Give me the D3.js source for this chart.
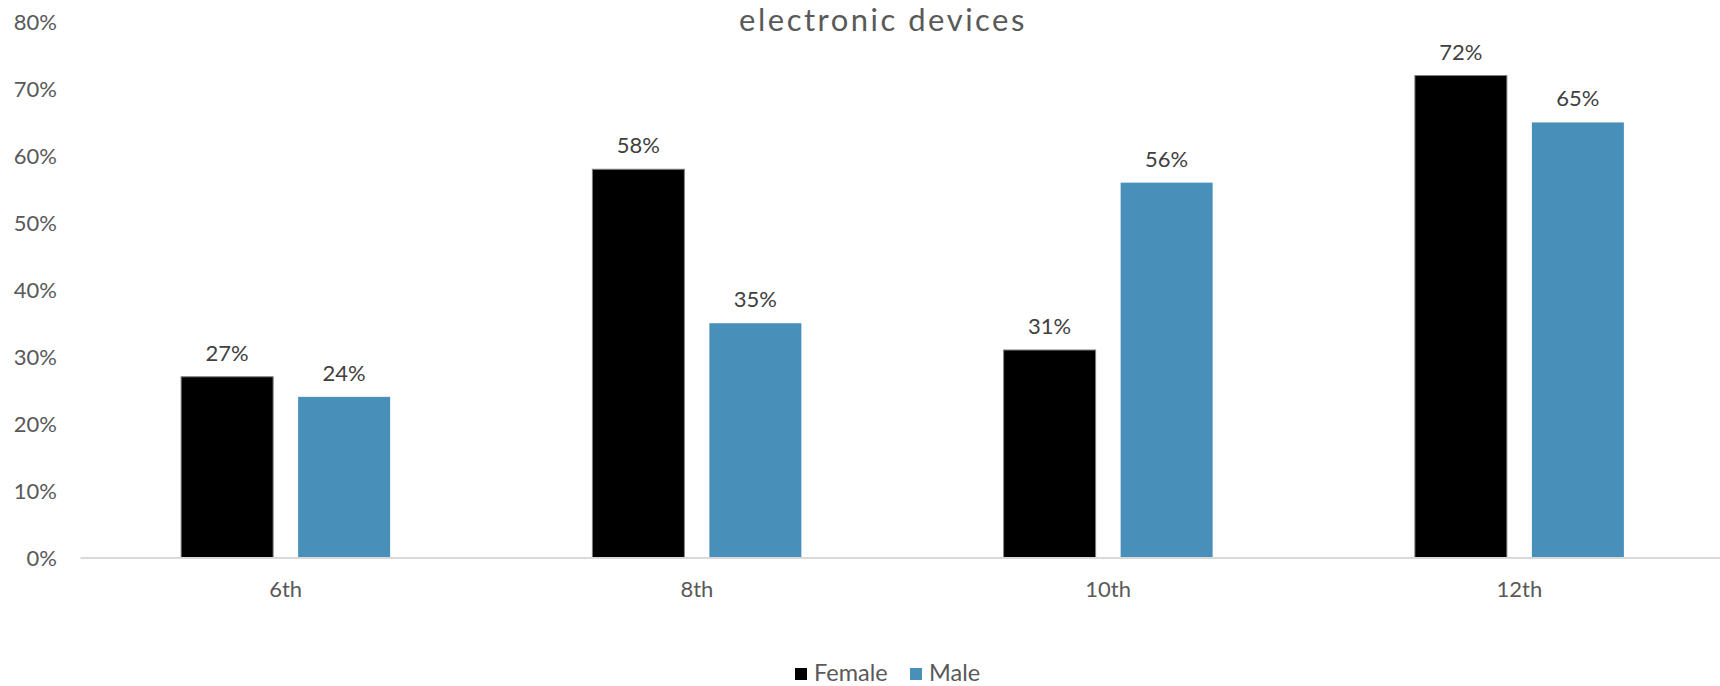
<!DOCTYPE html>
<html>
<head>
<meta charset="utf-8">
<script src="https://cdn.jsdelivr.net/npm/d3@7"></script>
<style>
  html, body { margin: 0; padding: 0; background: #fff; }
  svg { display: block; }
  text { font-family: Lato, "Open Sans", sans-serif; fill: #595959; }
</style>
</head>
<body>
<svg id="chart" width="1720" height="686"></svg>
<script>
const title = "electronic devices";
const categories = ["6th", "8th", "10th", "12th"];
const seriesNames = ["Female", "Male"];
const femaleValues = [27, 58, 31, 72];
const maleValues = [24, 35, 56, 65];
const yTicks = [0, 10, 20, 30, 40, 50, 60, 70, 80];
const colors = ["#000000", "#4890b9"];

const data = categories.map((c, i) => ({ cat: c, values: [femaleValues[i], maleValues[i]] }));

const svg = d3.select("#chart");
const plotLeft = 80, plotRight = 1725, plotTop = 22, plotBottom = 557.5;

const x = d3.scaleBand().domain(categories).range([plotLeft, plotRight]).paddingInner(0).paddingOuter(0);
const y = d3.scaleLinear().domain([0, 80]).range([plotBottom, plotTop]);

const barW = 92, gap = 25;

// Title
svg.append("text").attr("x", 883).attr("y", 31).attr("text-anchor", "middle")
  .style("font-size", "31px").style("letter-spacing", "2.5px").text(title);

// Y axis
const yAxis = d3.axisLeft(y).tickValues(yTicks).tickFormat(d => d + "%").tickSize(0).tickPadding(0);
const yg = svg.append("g").attr("transform", `translate(57,0)`).call(yAxis);
yg.select(".domain").remove();
yg.selectAll("text").style("font-size", "22px").style("fill", "#595959").style("font-family", "Lato, sans-serif").attr("dy", "0.35em");

// Groups
const groups = svg.append("g").selectAll("g").data(data).join("g")
  .attr("transform", d => `translate(${x(d.cat)},0)`);

const barX = (i) => x.bandwidth() / 2 + (i === 0 ? -gap / 2 - barW : gap / 2);

groups.selectAll("rect").data(d => d.values).join("rect")
  .attr("x", (v, i) => barX(i))
  .attr("y", v => y(v))
  .attr("width", barW)
  .attr("height", v => y(0) - y(v))
  .attr("fill", (v, i) => colors[i])
  .attr("stroke", (v, i) => i === 0 ? "#7f7f7f" : "none")
  .attr("stroke-width", 1);

groups.selectAll("text.lbl").data(d => d.values).join("text")
  .attr("class", "lbl")
  .attr("x", (v, i) => barX(i) + barW / 2)
  .attr("y", v => y(v) - 16)
  .attr("text-anchor", "middle")
  .style("font-size", "22px")
  .style("fill", "#404040")
  .text(v => v + "%");

// X axis
const xAxis = d3.axisBottom(x).tickSize(0).tickPadding(0);
const xg = svg.append("g").attr("transform", `translate(0,${plotBottom})`).call(xAxis);
xg.select(".domain").attr("stroke", "#d9d9d9").attr("stroke-width", 2);
xg.selectAll("text").style("font-size", "22px").style("fill", "#595959").style("font-family", "Lato, sans-serif").attr("dy", "0").attr("y", 39);

// Legend
const legend = svg.append("g");
const legendItems = [{ name: seriesNames[0], x: 795 }, { name: seriesNames[1], x: 910 }];
legendItems.forEach((it, i) => {
  legend.append("rect").attr("x", it.x).attr("y", 668).attr("width", 12).attr("height", 12).attr("fill", colors[i]);
  legend.append("text").attr("x", it.x + 19).attr("y", 681).style("font-size", "23.5px").text(it.name);
});
</script>
</body>
</html>
